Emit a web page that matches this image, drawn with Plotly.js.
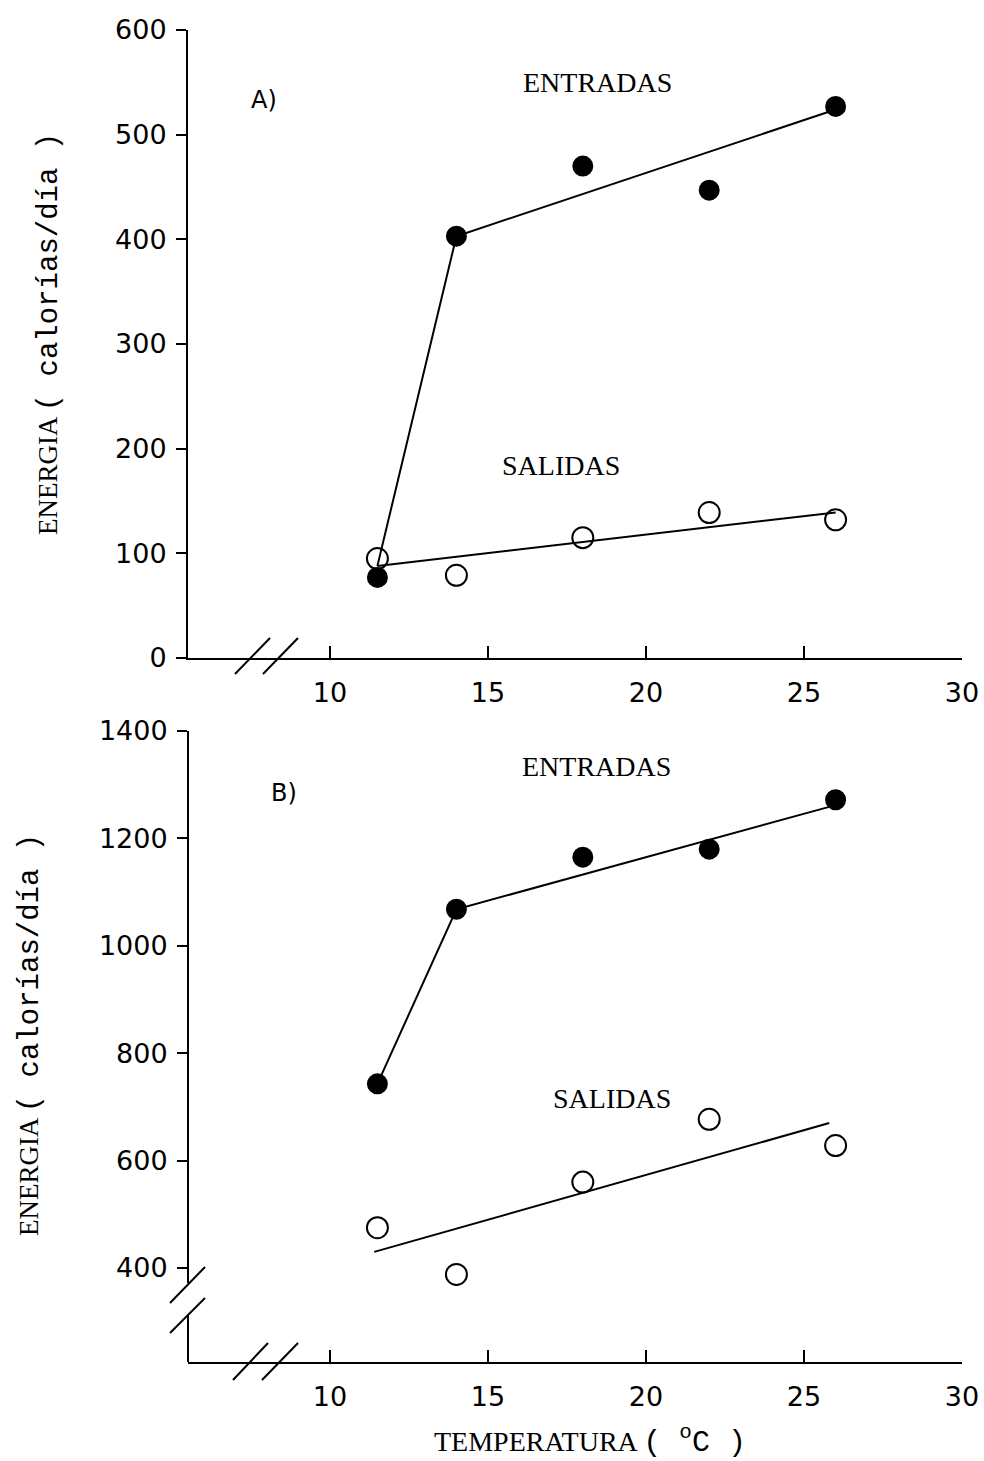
<!DOCTYPE html>
<html>
<head>
<meta charset="utf-8">
<script src="https://cdn.plot.ly/plotly-3.0.1.min.js"></script>
<style>html,body{margin:0;padding:0;background:#fff;}#chart{width:984px;height:1461px;}</style>
</head>
<body>
<div id="chart"></div>
<script>
// ---- data ----
var temps = [11.5, 14, 18, 22, 26];
var xTicks = [10, 15, 20, 25, 30];

// Panel A
var entradasA = [77, 403, 470, 447, 527];
var salidasA = [95, 79, 115, 139, 132];
var lineEntradasAx = [11.5, 14, 26];
var lineEntradasAy = [88, 403, 524];
var lineSalidasAx = [11.5, 26];
var lineSalidasAy = [88, 139];
var yTicksA = [0, 100, 200, 300, 400, 500, 600];

// Panel B
var entradasB = [743, 1068, 1165, 1180, 1272];
var salidasB = [475, 388, 560, 677, 628];
var lineEntradasBx = [11.5, 14, 26];
var lineEntradasBy = [743, 1068, 1262];
var lineSalidasBx = [11.4, 25.8];
var lineSalidasBy = [430, 670];
var yTicksB = [400, 600, 800, 1000, 1200, 1400];

// ---- geometry helpers (pixel -> paper) ----
var W = 984, H = 1461, L = 188, R = 22, T = 30, B = 99;
var PW = W - L - R, PH = H - T - B;
function xp(px) { return (px - L) / PW; }
function yp(py) { return (H - B - py) / PH; }

var black = '#000';
function lineTrace(x, y, xa, ya) {
  return {x: x, y: y, xaxis: xa, yaxis: ya, mode: 'lines', line: {color: black, width: 2}, hoverinfo: 'skip', showlegend: false};
}
function markTrace(x, y, xa, ya, filled) {
  return {x: x, y: y, xaxis: xa, yaxis: ya, mode: 'markers', showlegend: false, cliponaxis: false,
    marker: {symbol: filled ? 'circle' : 'circle-open', size: filled ? 19 : 21, color: black,
      line: {color: black, width: 2}}};
}

var data = [
  lineTrace(lineEntradasAx, lineEntradasAy, 'x', 'y'),
  lineTrace(lineSalidasAx, lineSalidasAy, 'x', 'y'),
  markTrace(temps, salidasA, 'x', 'y', false),
  markTrace(temps, entradasA, 'x', 'y', true),
  lineTrace(lineEntradasBx, lineEntradasBy, 'x2', 'y2'),
  lineTrace(lineSalidasBx, lineSalidasBy, 'x2', 'y2'),
  markTrace(temps, salidasB, 'x2', 'y2', false),
  markTrace(temps, entradasB, 'x2', 'y2', true)
];

var tickFont = {family: 'DejaVu Sans', size: 27, color: black};
function xAxis(anchor) {
  return {anchor: anchor, range: [5.506, 30], showgrid: false, zeroline: false, showline: true,
    linecolor: black, linewidth: 2, ticks: 'inside', ticklen: 12, tickwidth: 2, tickcolor: black,
    tickmode: 'array', tickvals: xTicks, ticktext: xTicks.map(String), tickfont: tickFont,
    ticklabelstandoff: 10, fixedrange: true};
}
function yAxis(anchor, range, ticks, domain, showline) {
  return {anchor: anchor, range: range, domain: domain, showgrid: false, zeroline: false, showline: showline,
    linecolor: black, linewidth: 2, ticks: 'outside', ticklen: 10, tickwidth: 2, tickcolor: black,
    tickmode: 'array', tickvals: ticks, ticktext: ticks.map(String), tickfont: tickFont,
    ticklabelstandoff: 4, fixedrange: true};
}

function seg(x0, y0, x1, y1) {
  return {type: 'line', xref: 'paper', yref: 'paper', x0: xp(x0), y0: yp(y0), x1: xp(x1), y1: yp(y1),
    line: {color: black, width: 2}};
}

var shapes = [
  // x-axis break A
  seg(235, 674, 270, 638), seg(263, 674, 298, 638),
  // x-axis break B
  seg(233, 1380, 268, 1343), seg(262, 1380, 298, 1343),
  // y-axis B line with break
  seg(188, 731, 188, 1283), seg(188, 1315, 188, 1362),
  seg(170, 1303, 205, 1267), seg(170, 1333, 205, 1298)
];

var serif = 'Liberation Serif';
function ann(text, px, py, size, family, angle) {
  return {text: text, xref: 'paper', yref: 'paper', x: xp(px), y: yp(py), xanchor: 'center', yanchor: 'middle',
    showarrow: false, textangle: angle || 0, font: {family: family, size: size, color: black}};
}
var yTitle = 'ENERGIA <span style="font-family:Liberation Mono;font-size:29px">( calorías/día )</span>';
var annotations = [
  ann('A)', 264, 100, 24, 'DejaVu Sans'),
  ann('ENTRADAS', 597, 82, 28, serif),
  ann('SALIDAS', 561, 466, 28, serif),
  ann('B)', 284, 793, 24, 'DejaVu Sans'),
  ann('ENTRADAS', 596, 767, 28, serif),
  ann('SALIDAS', 612, 1098, 28, serif),
  ann(yTitle, 50, 334, 27, serif, -90),
  ann(yTitle, 30, 1035, 27, serif, -90),
  ann('TEMPERATURA <span style="font-family:Liberation Mono;font-size:30px">( <sup>o</sup>C )</span>', 590, 1440, 28, serif)
];

var layout = {
  width: W, height: H,
  margin: {l: L, r: R, t: T, b: B, pad: 0},
  paper_bgcolor: '#fff', plot_bgcolor: 'rgba(0,0,0,0)',
  showlegend: false,
  xaxis: xAxis('y'),
  yaxis: yAxis('x', [0, 600], yTicksA, [yp(658), 1], true),
  xaxis2: xAxis('y2'),
  yaxis2: yAxis('x2', [225, 1400], yTicksB, [0, yp(731)], false),
  shapes: shapes,
  annotations: annotations
};

Plotly.newPlot('chart', data, layout, {staticPlot: true, displayModeBar: false});
</script>
</body>
</html>
